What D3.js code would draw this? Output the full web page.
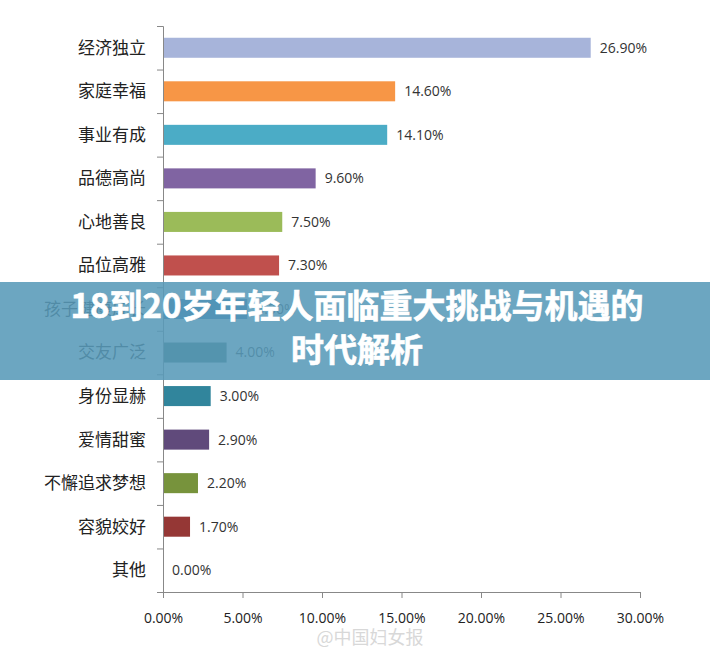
<!DOCTYPE html><html><head><meta charset="utf-8"><script src="https://cdn.jsdelivr.net/npm/d3@7"></script>
<style>body{margin:0;background:#fff}</style></head><body><svg id="c" width="710" height="655"></svg><script>
const categories=["经济独立","家庭幸福","事业有成","品德高尚","心地善良","品位高雅","孩子健康成长","交友广泛","身份显赫","爱情甜蜜","不懈追求梦想","容貌姣好","其他"];
const values=[26.9,14.6,14.1,9.6,7.5,7.3,5.3,4.0,3.0,2.9,2.2,1.7,0.0];
const colors=["#a7b4da","#f79646","#4bacc6","#8064a2","#9bbb59","#c0504d","#2a6ea8","#3f6a66","#31859c","#604a7b","#77933c","#953735","#888"];
const ticks=[0,5,10,15,20,25,30];
const svg=d3.select("#c");
const x=d3.scaleLinear().domain([0,30]).range([163,640]);
const y=d3.scaleBand().domain(categories).range([26,592]).paddingInner(0.54).paddingOuter(0.27);
const f="'Noto Sans CJK SC','DejaVu Sans',sans-serif";
svg.selectAll("rect.b").data(values).join("rect").attr("x",x(0)).attr("y",(d,i)=>y(categories[i])).attr("width",d=>x(d)-x(0)).attr("height",y.bandwidth()).attr("fill",(d,i)=>colors[i]);
svg.selectAll("text.v").data(values).join("text").attr("x",d=>x(d)+9).attr("y",(d,i)=>y(categories[i])+y.bandwidth()/2).attr("dy","0.35em").attr("font-size",14).attr("font-family","'Open Sans',sans-serif").attr("fill","#333").text(d=>d.toFixed(2)+"%");
svg.selectAll("text.c").data(categories).join("text").attr("x",146).attr("y",d=>y(d)+y.bandwidth()/2).attr("dy","0.35em").attr("text-anchor","end").attr("font-size",17).attr("font-family",f).attr("fill","#222").text(d=>d);
const yb=d3.scaleLinear().domain([0,13]).range([26,592]);
const ga=svg.append("g").attr("transform","translate(163,0)").call(d3.axisLeft(yb).tickValues(d3.range(14)).tickSize(6).tickFormat(""));
const gx=svg.append("g").attr("transform","translate(0,592)").call(d3.axisBottom(x).tickValues(ticks).tickSize(6).tickFormat(d=>d.toFixed(2)+"%"));
[ga,gx].forEach(g=>{g.select(".domain").attr("stroke","#888");g.selectAll("line").attr("stroke","#888");});
gx.selectAll("text").attr("font-size",14).attr("font-family","'Open Sans',sans-serif").attr("fill","#222").attr("dy","1.55em");
svg.append("text").attr("x",370).attr("y",644).attr("text-anchor","middle").attr("font-size",18).attr("font-family",f).attr("fill","#d8d8d8").text("@中国妇女报");
svg.append("rect").attr("x",0).attr("y",282).attr("width",710).attr("height",98).attr("fill","rgba(88,154,184,0.88)");
const title=["18到20岁年轻人面临重大挑战与机遇的","时代解析"];
svg.selectAll("text.t").data(title).join("text").attr("x",357).attr("y",(d,i)=>318+i*44).attr("text-anchor","middle").attr("font-size",33).attr("font-weight","bold").attr("font-family",f).attr("fill","#fff").attr("stroke","#fff").attr("stroke-width",0.6).text(d=>d);
</script></body></html>
